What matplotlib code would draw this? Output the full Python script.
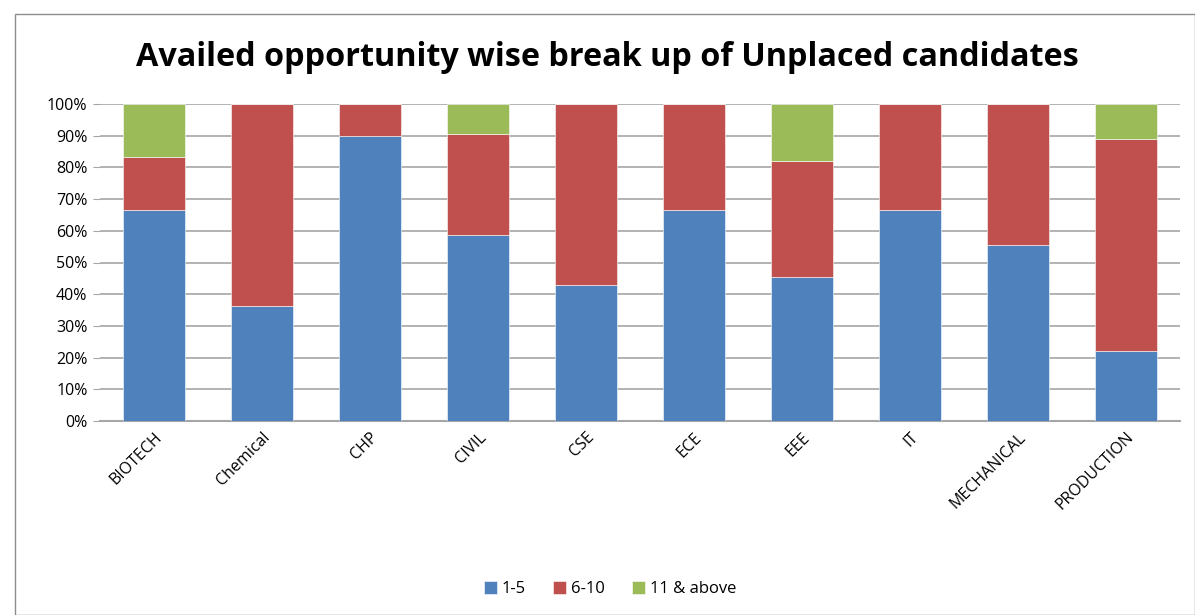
import matplotlib
matplotlib.use("Agg")
import matplotlib.pyplot as plt
from matplotlib.patches import Rectangle
from matplotlib.ticker import PercentFormatter, MultipleLocator

categories = ["BIOTECH", "Chemical", "CHP", "CIVIL", "CSE", "ECE", "EEE", "IT", "MECHANICAL", "PRODUCTION"]
s_1_5 = [66.7, 36.4, 90.0, 58.8, 42.9, 66.7, 45.5, 66.7, 55.6, 22.2]
s_6_10 = [16.7, 63.6, 10.0, 31.8, 57.1, 33.3, 36.4, 33.3, 44.4, 66.7]
s_11_above = [16.6, 0.0, 0.0, 9.4, 0.0, 0.0, 18.1, 0.0, 0.0, 11.1]
series_names = ["1-5", "6-10", "11 & above"]
colors = ["#4F81BD", "#C0504D", "#9BBB59"]

W, H = 1195, 615
fig = plt.figure(figsize=(W / 100, H / 100), dpi=100)
fig.patches.append(Rectangle((15 / W, 0), (W - 15) / W, (H - 14) / H, transform=fig.transFigure,
                             fill=False, edgecolor="#8C8C8C", linewidth=1))

ax = fig.add_axes([100 / W, (H - 421) / H, 1080 / W, 317 / H])
x = list(range(len(categories)))
bottom = [0.0] * len(categories)
for vals, name, c in zip([s_1_5, s_6_10, s_11_above], series_names, colors):
    ax.bar(x, vals, width=0.574, bottom=bottom, color=c, label=name, zorder=3,
           edgecolor="#ffffff", linewidth=0.4)
    bottom = [b + v for b, v in zip(bottom, vals)]

ax.set_xlim(-0.5, len(categories) - 0.5)
ax.set_ylim(0, 100)
ax.yaxis.set_major_locator(MultipleLocator(10))
ax.yaxis.set_major_formatter(PercentFormatter(decimals=0))
ax.grid(axis="y", color="#A6A6A6", linewidth=1.2, zorder=0)
for s in ["top", "right", "left"]:
    ax.spines[s].set_visible(False)
ax.spines["bottom"].set_color("#A6A6A6")
ax.spines["bottom"].set_linewidth(1.5)
ax.tick_params(axis="y", length=5, color="#A6A6A6", labelsize=11.5, pad=4)
ax.tick_params(axis="x", length=0, labelsize=11.5, pad=6)
ax.set_xticks(x)
ax.set_xticklabels(categories, rotation=45, ha="right", rotation_mode="anchor", fontfamily="Open Sans")
for lab in ax.get_yticklabels():
    lab.set_fontfamily("Open Sans")

fig.text(607 / W, 1 - 57 / H, "Availed opportunity wise break up of Unplaced candidates",
         ha="center", va="center", fontsize=23.3, fontweight="bold", fontfamily="Open Sans")

leg = fig.legend(loc="center", bbox_to_anchor=(610 / W, 1 - 589 / H), ncol=3, frameon=False,
                 handlelength=0.8, handleheight=0.8, handletextpad=0.3,
                 columnspacing=1.6, prop={"family": "Open Sans", "size": 12})

fig.savefig("out.png", dpi=100)
